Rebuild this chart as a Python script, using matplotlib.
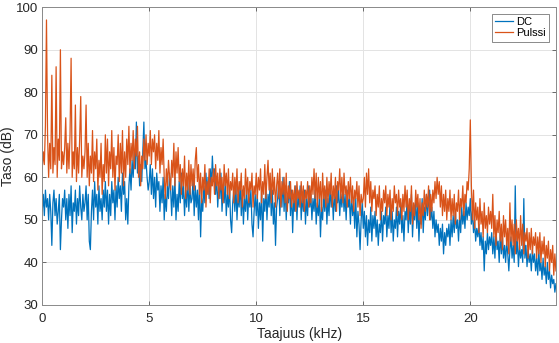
import numpy as np
import matplotlib.pyplot as plt

# spectrum levels in dB, one value every 0.05 kHz (each row = 1 kHz)
dc_db = [
    52, 56, 51, 57, 53, 55, 50, 56, 52, 44, 54, 57, 51, 55, 49, 52, 56, 43, 50, 55,
    53, 57, 50, 55, 48, 56, 51, 58, 47, 54, 52, 57, 49, 55, 51, 58, 53, 50, 56, 52,
    54, 58, 50, 56, 45, 43, 52, 57, 50, 59, 53, 56, 49, 58, 52, 55, 50, 57, 53, 59,
    52, 57, 49, 56, 51, 59, 54, 57, 50, 58, 53, 60, 55, 58, 52, 61, 56, 59, 50, 55,
    49, 58, 62, 57, 64, 60, 66, 62, 73, 61, 65, 58, 63, 59, 66, 73, 62, 64, 60, 57,
    59, 63, 56, 62, 55, 60, 53, 61, 57, 59, 52, 58, 54, 60, 50, 56, 52, 58, 55, 61,
    57, 51, 58, 53, 60, 50, 56, 52, 59, 54, 61, 55, 58, 51, 57, 53, 60, 52, 58, 54,
    55, 60, 51, 58, 53, 57, 50, 59, 46, 55, 52, 58, 54, 61, 56, 60, 55, 62, 58, 65,
    59, 62, 56, 60, 53, 58, 55, 61, 52, 57, 54, 59, 51, 56, 53, 58, 50, 47, 54, 57,
    52, 58, 50, 56, 53, 59, 51, 57, 49, 55, 52, 58, 50, 56, 53, 57, 49, 46, 52, 56,
    51, 56, 48, 54, 50, 57, 45, 55, 52, 58, 50, 56, 53, 59, 51, 57, 49, 54, 44, 53,
    55, 59, 51, 57, 53, 60, 52, 58, 50, 56, 54, 59, 51, 57, 47, 55, 52, 58, 50, 56,
    53, 58, 50, 56, 52, 57, 49, 55, 51, 58, 53, 56, 50, 55, 52, 57, 49, 54, 51, 56,
    46, 53, 50, 56, 52, 57, 49, 55, 51, 58, 53, 56, 50, 57, 52, 58, 54, 57, 51, 56,
    53, 58, 52, 56, 50, 57, 53, 55, 49, 56, 51, 54, 48, 55, 46, 52, 49, 43, 50, 54,
    48, 52, 46, 51, 44, 50, 47, 53, 45, 51, 48, 52, 46, 50, 44, 49, 47, 52, 45, 51,
    49, 53, 46, 51, 48, 54, 47, 52, 45, 50, 48, 53, 46, 52, 49, 54, 47, 51, 45, 52,
    50, 55, 47, 53, 49, 56, 46, 52, 50, 55, 48, 54, 45, 51, 49, 55, 47, 53, 50, 56,
    51, 54, 57, 50, 53, 48, 52, 46, 50, 47, 49, 44, 48, 45, 49, 42, 47, 44, 48, 46,
    49, 44, 50, 46, 51, 47, 52, 48, 50, 45, 51, 47, 53, 49, 52, 48, 54, 50, 53, 51,
    55, 49, 52, 47, 50, 45, 48, 46, 49, 44, 47, 43, 46, 38, 45, 42, 47, 43, 46, 44,
    47, 42, 46, 41, 48, 43, 45, 40, 47, 42, 46, 41, 44, 40, 45, 42, 38, 43, 46, 41,
    44, 40, 58, 42, 45, 39, 44, 41, 43, 40, 55, 41, 44, 39, 43, 40, 42, 38, 43, 40,
    42, 38, 41, 37, 43, 38, 40, 36, 41, 37, 39, 35, 40, 36, 38, 34, 37, 35, 36, 33,
    35,
]

pulssi_db = [
    62, 66, 63, 72, 97, 70, 60, 68, 62, 84, 61, 67, 63, 86, 60, 69, 64, 90, 62, 66,
    63, 67, 74, 61, 68, 62, 70, 88, 60, 66, 62, 77, 59, 67, 61, 69, 79, 60, 65, 62,
    66, 77, 60, 68, 58, 65, 61, 71, 59, 66, 62, 69, 57, 64, 60, 68, 56, 63, 59, 70,
    61, 69, 58, 66, 62, 71, 60, 67, 57, 65, 63, 70, 59, 68, 61, 71, 58, 66, 60, 69,
    63, 72, 61, 68, 64, 71, 62, 69, 65, 72, 60, 66, 58, 65, 62, 69, 64, 70, 63, 68,
    65, 71, 63, 69, 66, 70, 62, 68, 64, 71, 61, 67, 63, 69, 60, 55, 62, 58, 64, 60,
    57, 64, 60, 68, 58, 66, 61, 67, 59, 63, 56, 62, 58, 65, 55, 61, 57, 64, 56, 63,
    58, 62, 57, 64, 67, 59, 63, 56, 61, 54, 60, 57, 63, 53, 59, 56, 62, 54, 60, 58,
    62, 56, 63, 58, 61, 55, 62, 57, 60, 54, 63, 58, 61, 56, 62, 55, 59, 57, 61, 54,
    60, 56, 62, 54, 59, 57, 61, 53, 58, 55, 62, 56, 60, 54, 59, 57, 61, 53, 58, 56,
    61, 55, 60, 57, 62, 54, 59, 56, 63, 55, 60, 64, 57, 61, 54, 62, 56, 60, 53, 58,
    61, 55, 62, 53, 59, 56, 60, 54, 61, 52, 58, 55, 59, 53, 57, 54, 58, 52, 59, 55,
    57, 53, 59, 54, 58, 52, 57, 55, 59, 53, 58, 54, 60, 56, 62, 55, 61, 53, 60, 55,
    59, 52, 61, 55, 58, 53, 60, 54, 59, 56, 61, 53, 58, 55, 60, 52, 59, 57, 62, 55,
    60, 54, 61, 56, 58, 53, 59, 55, 60, 54, 58, 52, 57, 55, 59, 53, 58, 51, 56, 54,
    55, 60, 53, 61, 56, 62, 54, 59, 52, 57, 55, 58, 51, 56, 53, 58, 50, 55, 52, 57,
    54, 58, 51, 56, 53, 57, 50, 55, 52, 58, 54, 56, 51, 57, 53, 55, 50, 56, 52, 58,
    53, 57, 50, 55, 52, 58, 49, 54, 51, 57, 53, 56, 50, 55, 48, 54, 51, 57, 52, 56,
    53, 58, 50, 56, 52, 57, 54, 59, 55, 60, 56, 59, 53, 58, 51, 56, 52, 57, 50, 55,
    52, 57, 50, 55, 51, 56, 49, 54, 52, 57, 50, 55, 53, 58, 51, 56, 54, 59, 57, 62,
    73.5, 58, 50, 57, 48, 54, 50, 53, 47, 55, 49, 52, 46, 54, 48, 51, 47, 53, 49, 52,
    48, 56, 46, 51, 44, 50, 47, 52, 45, 49, 43, 51, 46, 50, 44, 48, 42, 54, 45, 50,
    44, 49, 42, 50, 45, 48, 43, 51, 44, 49, 42, 47, 45, 48, 41, 47, 43, 48, 42, 46,
    44, 47, 41, 46, 42, 47, 40, 45, 42, 46, 39, 44, 41, 45, 38, 43, 40, 44, 37, 42,
    38,
]

freq_khz = np.arange(len(dc_db)) * 0.05

plt.rcParams['font.family'] = ['Liberation Sans', 'DejaVu Sans']

fig = plt.figure(figsize=(5.59, 3.43), dpi=100)
ax = fig.add_axes([0.0755, 0.111, 0.919, 0.868])

ax.plot(freq_khz, dc_db, color='#0072BD', lw=0.9, label='DC')
ax.plot(freq_khz, pulssi_db, color='#D95319', lw=0.9, label='Pulssi')

ax.set_xlim(0, 24)
ax.set_ylim(30, 100)
ax.set_xticks([0, 5, 10, 15, 20])
ax.set_yticks(np.arange(30, 101, 10))
ax.grid(True, color='#e3e3e3', lw=0.7)
ax.set_axisbelow(True)
ax.tick_params(direction='in', top=True, right=True, length=3, width=0.6,
               colors='#555555', labelcolor='#262626', labelsize=9.5, pad=3)
ax.tick_params(axis='x', pad=6)
for s in ax.spines.values():
    s.set_color('#8a8a8a')
    s.set_linewidth(0.7)

ax.set_xlabel('Taajuus (kHz)', fontsize=10, color='#262626')
ax.xaxis.set_label_coords(0.5, -0.074)
ax.set_ylabel('Taso (dB)', fontsize=10, color='#262626')
ax.yaxis.set_label_coords(-0.053, 0.5)

leg = ax.legend(loc='upper right', fontsize=8, frameon=True, fancybox=False,
                handlelength=1.6, handletextpad=0.3, borderpad=0.3,
                labelspacing=0.1, borderaxespad=0.6)
leg.get_frame().set_edgecolor('#555555')
leg.get_frame().set_linewidth(0.6)

fig.savefig('out.png', dpi=100)
